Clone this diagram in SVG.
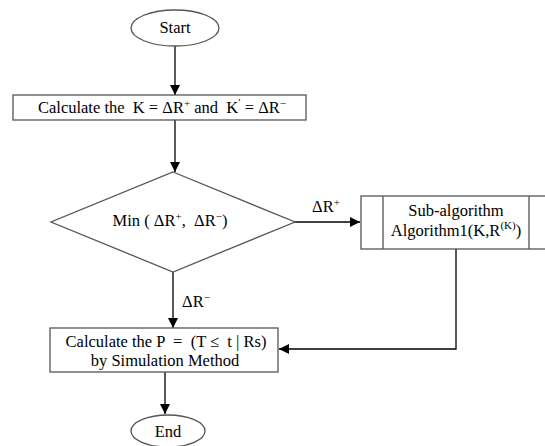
<svg xmlns="http://www.w3.org/2000/svg" width="545" height="446" viewBox="0 0 545 446">
<style>
.s{fill:#fff;stroke:#555;stroke-width:1.3}
.c{fill:none;stroke:#000;stroke-width:1.3}
text{font-family:"Liberation Serif","DejaVu Serif",serif;font-size:16.5px;fill:#000;text-anchor:middle;white-space:pre}
.sup{font-size:11px}
</style>
<defs>
<marker id="a" viewBox="0 0 10 10" refX="10" refY="5" markerWidth="10" markerHeight="10" markerUnits="userSpaceOnUse" orient="auto">
<path d="M0,0L10,5L0,10z" fill="#000"/>
</marker>
</defs>
<g id="connectors">
<path class="c" d="M175,46V95" marker-end="url(#a)"/>
<path class="c" d="M175,120V172" marker-end="url(#a)"/>
<path class="c" d="M294,222H360" marker-end="url(#a)"/>
<path class="c" d="M173,272V328" marker-end="url(#a)"/>
<path class="c" d="M456,249V349H279" marker-end="url(#a)"/>
<path class="c" d="M165,372V414" marker-end="url(#a)"/>
<text x="326" y="212">ΔR<tspan class="sup" dy="-6">+</tspan></text>
<text x="196" y="307">ΔR<tspan class="sup" dy="-6">−</tspan></text>
</g>
<g id="start">
<ellipse class="s" cx="175" cy="28" rx="44" ry="18"/>
<text x="175" y="33">Start</text>
</g>
<g id="calcK">
<rect class="s" x="13" y="95" width="293" height="25"/>
<text x="162" y="113">Calculate the  K = ΔR<tspan class="sup" dy="-6">+</tspan><tspan dy="6"> and  K</tspan><tspan class="sup" dy="-7">′</tspan><tspan dy="7"> = ΔR</tspan><tspan class="sup" dy="-6">−</tspan></text>
</g>
<g id="min">
<path class="s" d="M173,172L295,222L173,272L51,222Z"/>
<text x="170" y="226">Min ( ΔR<tspan class="sup" dy="-6">+</tspan><tspan dy="6">,  ΔR</tspan><tspan class="sup" dy="-6">−</tspan><tspan dy="6">)</tspan></text>
</g>
<g id="sub">
<rect class="s" x="361" y="196" width="190" height="53"/>
<path class="s" d="M383,196V249M529,196V249"/>
<text x="456" y="216">Sub-algorithm</text>
<text x="456" y="236">Algorithm1(K,R<tspan class="sup" dy="-7">(K)</tspan><tspan dy="7">)</tspan></text>
</g>
<g id="calcP">
<rect class="s" x="50" y="328" width="228" height="44"/>
<text x="166" y="347">Calculate the P  =  (T ≤  t | Rs)</text>
<text x="165" y="366">by Simulation Method</text>
</g>
<g id="end">
<ellipse class="s" cx="168" cy="431" rx="37" ry="16"/>
<text x="168" y="437">End</text>
</g>
</svg>
